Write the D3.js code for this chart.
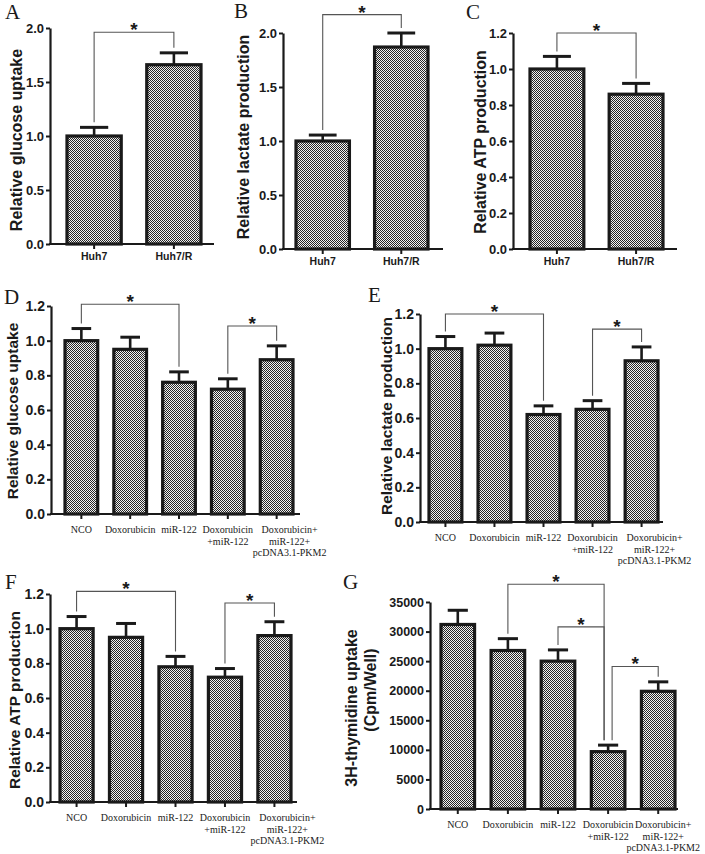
<!DOCTYPE html>
<html><head><meta charset="utf-8">
<script src="https://cdn.jsdelivr.net/npm/d3@7"></script>
<style>body{margin:0;background:#fff}svg{display:block}</style>
</head><body>
<script>
// ---------- DATA ----------
const catsAC = ["Huh7", "Huh7/R"];
const glucoseA = [1.0, 1.66];
const glucoseAErr = [0.08, 0.11];
const lactateB = [1.0, 1.87];
const lactateBErr = [0.055, 0.13];
const atpC = [1.0, 0.86];
const atpCErr = [0.07, 0.06];

const catsDG = [["NCO"], ["Doxorubicin"], ["miR-122"], ["Doxorubicin", "+miR-122"], ["Doxorubicin+", "miR-122+", "pcDNA3.1-PKM2"]];
const glucoseD = [1.0, 0.95, 0.76, 0.72, 0.89];
const glucoseDErr = [0.07, 0.07, 0.06, 0.06, 0.08];
const lactateE = [1.0, 1.02, 0.62, 0.65, 0.93];
const lactateEErr = [0.07, 0.07, 0.05, 0.05, 0.08];
const atpF = [1.0, 0.95, 0.78, 0.72, 0.96];
const atpFErr = [0.07, 0.08, 0.06, 0.05, 0.08];
const thymidineG = [31200, 26800, 25000, 9700, 19900];
const thymidineGErr = [2400, 2000, 1900, 1100, 1600];

const ticksAB = [0, 0.5, 1.0, 1.5, 2.0];
const ticks12 = [0, 0.2, 0.4, 0.6, 0.8, 1.0, 1.2];
const ticksG = [0, 5000, 10000, 15000, 20000, 25000, 30000, 35000];

// significance brackets: [from index, to index, bracket height value]
const sigA = [[0, 1, 1.96]];
const sigB = [[0, 1, 2.17]];
const sigC = [[0, 1, 1.2]];
const sigD = [[0, 2, 1.21], [3, 4, 1.085]];
const sigE = [[0, 2, 1.2], [3, 4, 1.113]];
const sigF = [[0, 2, 1.215], [3, 4, 1.148]];
const sigG = [[1, 3, 38000], [2, 3, 30800], [3, 4, 24100]];

// ---------- DRAW ----------
const W = 705, H = 854;
const svg = d3.select("body").append("svg").attr("width", W).attr("height", H);
const defs = svg.append("defs");
const pat = defs.append("pattern").attr("id", "checker").attr("patternUnits", "userSpaceOnUse")
  .attr("width", 2).attr("height", 2);
pat.append("rect").attr("width", 2).attr("height", 2).attr("fill", "#f2f2f2");
pat.append("rect").attr("width", 1).attr("height", 1).attr("fill", "#262626");
pat.append("rect").attr("x", 1).attr("y", 1).attr("width", 1).attr("height", 1).attr("fill", "#262626");

const SANS = "Liberation Sans, Arial, sans-serif";
const SERIF = "Liberation Serif, Times New Roman, serif";

function panel(o) {
  const g = svg.append("g");
  const n = o.values.length;
  const y = d3.scaleLinear().domain([0, o.yMax]).range([o.yBot, o.yTop]);
  const x = d3.scaleBand().domain(d3.range(n)).range([o.b0, o.b1]).paddingInner(o.pad).paddingOuter(0);
  const bw = x.bandwidth();

  // bars
  g.selectAll("rect.bar").data(o.values).join("rect")
    .attr("class", "bar")
    .attr("x", (d, i) => x(i))
    .attr("y", d => y(d))
    .attr("width", bw)
    .attr("height", d => o.yBot - y(d))
    .attr("fill", "url(#checker)")
    .attr("stroke", "#1a1a1a")
    .attr("stroke-width", 3.2);

  // error bars (upper)
  const capW = bw * o.cap;
  const eb = g.selectAll("g.err").data(o.values).join("g").attr("class", "err");
  eb.append("line")
    .attr("x1", (d, i) => x(i) + bw / 2).attr("x2", (d, i) => x(i) + bw / 2)
    .attr("y1", d => y(d)).attr("y2", (d, i) => y(d + o.errs[i]))
    .attr("stroke", "#1a1a1a").attr("stroke-width", 2.6);
  eb.append("line")
    .attr("x1", (d, i) => x(i) + bw / 2 - capW / 2).attr("x2", (d, i) => x(i) + bw / 2 + capW / 2)
    .attr("y1", (d, i) => y(d + o.errs[i])).attr("y2", (d, i) => y(d + o.errs[i]))
    .attr("stroke", "#1a1a1a").attr("stroke-width", 3);

  // y axis
  const ya = g.append("g").attr("transform", `translate(${o.x0},0)`)
    .call(d3.axisLeft(y).tickValues(o.ticks).tickFormat(o.fmt).tickSize(4).tickSizeOuter(0).tickPadding(2));
  ya.select(".domain").attr("stroke", "#1a1a1a").attr("stroke-width", 2.2);
  ya.selectAll(".tick line").attr("stroke", "#1a1a1a").attr("stroke-width", 2);
  ya.selectAll(".tick text").attr("font-family", SANS).attr("font-weight", "bold")
    .attr("font-size", o.tickFs).attr("fill", "#1a1a1a");

  // x axis
  g.append("line").attr("x1", o.x0 - 1).attr("x2", o.x1).attr("y1", o.yBot).attr("y2", o.yBot)
    .attr("stroke", "#1a1a1a").attr("stroke-width", 2.2);
  const xa = g.append("g").attr("transform", `translate(0,${o.yBot})`)
    .call(d3.axisBottom(x).tickSize(5).tickSizeOuter(0).tickFormat(""));
  xa.select(".domain").remove();
  xa.selectAll(".tick line").attr("stroke", "#1a1a1a").attr("stroke-width", 2);
  const labs = g.selectAll("text.xl").data(o.cats).join("text").attr("class", "xl")
    .attr("x", (d, i) => x(i) + bw / 2 + (i === n - 1 ? o.lastDx : 0))
    .attr("y", o.yBot + o.labOff)
    .attr("text-anchor", "middle")
    .attr("font-family", o.labFont).attr("font-weight", o.labWeight)
    .attr("font-size", o.labFs).attr("fill", "#1a1a1a");
  labs.each(function (d) {
    const lines = Array.isArray(d) ? d : [d];
    const lx = d3.select(this).attr("x");
    d3.select(this).selectAll("tspan").data(lines).join("tspan")
      .attr("x", lx)
      .attr("dy", (l, j) => j === 0 ? 0 : o.lineH)
      .text(l => l);
  });

  // y title (one text per line)
  const tl = Array.isArray(o.title) ? o.title : [o.title];
  const tx = Array.isArray(o.titleX) ? o.titleX : [o.titleX];
  const ty = Array.isArray(o.titleY) ? o.titleY : [o.titleY];
  tl.forEach((line, j) => {
    g.append("text")
      .attr("transform", `translate(${tx[j]},${ty[j]}) rotate(-90)`)
      .attr("text-anchor", "middle")
      .attr("font-family", SANS).attr("font-weight", "bold")
      .attr("font-size", o.titleFs).attr("fill", "#1a1a1a").text(line);
  });

  // significance brackets
  const fromCount = {}, toCount = {};
  o.sig.forEach(s => { fromCount[s[0]] = (fromCount[s[0]] || 0) + 1; toCount[s[1]] = (toCount[s[1]] || 0) + 1; });
  const shared = i => (fromCount[i] || 0) > 0 && (toCount[i] || 0) > 0;
  o.sig.forEach(s => {
    const [a, b, h] = s;
    const xa_ = x(a) + bw / 2 + (shared(a) ? 4 : 0);
    const xb_ = x(b) + bw / 2 + (shared(b) ? -4 : 0);
    const yh = y(h);
    const ya_ = y(o.values[a] + o.errs[a]) - 5;
    const yb_ = y(o.values[b] + o.errs[b]) - 5;
    g.append("path")
      .attr("d", `M${xa_},${ya_}V${yh}H${xb_}V${yb_}`)
      .attr("fill", "none").attr("stroke", "#555").attr("stroke-width", 1.1);
    g.append("text").attr("x", (xa_ + xb_) / 2).attr("y", yh + 4)
      .attr("text-anchor", "middle").attr("font-family", SANS).attr("font-weight", "bold")
      .attr("font-size", 19).attr("fill", "#1a1a1a").text("*");
  });

  // panel letter
  g.append("text").attr("x", o.letterX).attr("y", o.letterY)
    .attr("font-family", SERIF).attr("font-size", 21).attr("fill", "#1a1a1a").text(o.letter);
}

const f1 = d3.format(".1f");
const fG = d3.format("d");
const common2 = { pad: 0.32, cap: 0.52, labOff: 16, labFont: SANS, labWeight: "bold", labFs: 10.5, lineH: 11, tickFs: 13, titleFs: 16, lastDx: 0 };
const common5 = { pad: 0.33, cap: 0.6, labOff: 19, labFont: SERIF, labWeight: "normal", labFs: 10, lineH: 11.5, tickFs: 14, titleFs: 15.5, lastDx: 13 };

panel(Object.assign({}, common2, {
  letter: "A", letterX: 5, letterY: 19, values: glucoseA, errs: glucoseAErr, cats: catsAC, sig: sigA,
  yMax: 2.0, ticks: ticksAB, fmt: f1, x0: 50, x1: 214, yTop: 28, yBot: 244, b0: 67, b1: 201,
  title: "Relative glucose uptake", titleX: 22, titleY: 140
}));
panel(Object.assign({}, common2, {
  letter: "B", letterX: 234, letterY: 18, values: lactateB, errs: lactateBErr, cats: catsAC, sig: sigB,
  yMax: 2.0, ticks: ticksAB, fmt: f1, x0: 283, x1: 443, yTop: 33, yBot: 249, b0: 296, b1: 428,
  title: "Relative lactate production", titleX: 249, titleY: 137
}));
panel(Object.assign({}, common2, {
  letter: "C", letterX: 466, letterY: 19, values: atpC, errs: atpCErr, cats: catsAC, sig: sigC,
  yMax: 1.2, ticks: ticks12, fmt: f1, x0: 513, x1: 677, yTop: 33, yBot: 249, b0: 530, b1: 663,
  title: "Relative ATP production", titleX: 486, titleY: 142
}));
panel(Object.assign({}, common5, {
  letter: "D", letterX: 4, letterY: 304, values: glucoseD, errs: glucoseDErr, cats: catsDG, sig: sigD,
  yMax: 1.2, ticks: ticks12, fmt: f1, x0: 51, x1: 300, yTop: 306, yBot: 514, b0: 65, b1: 293,
  title: "Relative glucose uptake", titleX: 18, titleY: 411
}));
panel(Object.assign({}, common5, {
  letter: "E", letterX: 368, letterY: 302, values: lactateE, errs: lactateEErr, cats: catsDG, sig: sigE,
  yMax: 1.2, ticks: ticks12, fmt: f1, x0: 420, x1: 663, yTop: 314, yBot: 522, b0: 429, b1: 658,
  title: "Relative lactate production", titleX: 392, titleY: 416
}));
panel(Object.assign({}, common5, {
  letter: "F", letterX: 5, letterY: 589, values: atpF, errs: atpFErr, cats: catsDG, sig: sigF,
  yMax: 1.2, ticks: ticks12, fmt: f1, x0: 50, x1: 297, yTop: 594, yBot: 802, b0: 60, b1: 291,
  title: "Relative ATP production", titleX: 20, titleY: 700
}));
panel(Object.assign({}, common5, {
  letter: "G", letterX: 343, letterY: 589, values: thymidineG, errs: thymidineGErr, cats: catsDG, sig: sigG,
  yMax: 35000, ticks: ticksG, fmt: fG, x0: 430, x1: 678, yTop: 602, yBot: 809, b0: 441, b1: 675,
  tickFs: 12.5, lastDx: 5, title: ["3H-thymidine uptake", "(Cpm/Well)"], titleX: [357, 376], titleY: [708, 690], titleFs: 16
}));
</script>
</body></html>
